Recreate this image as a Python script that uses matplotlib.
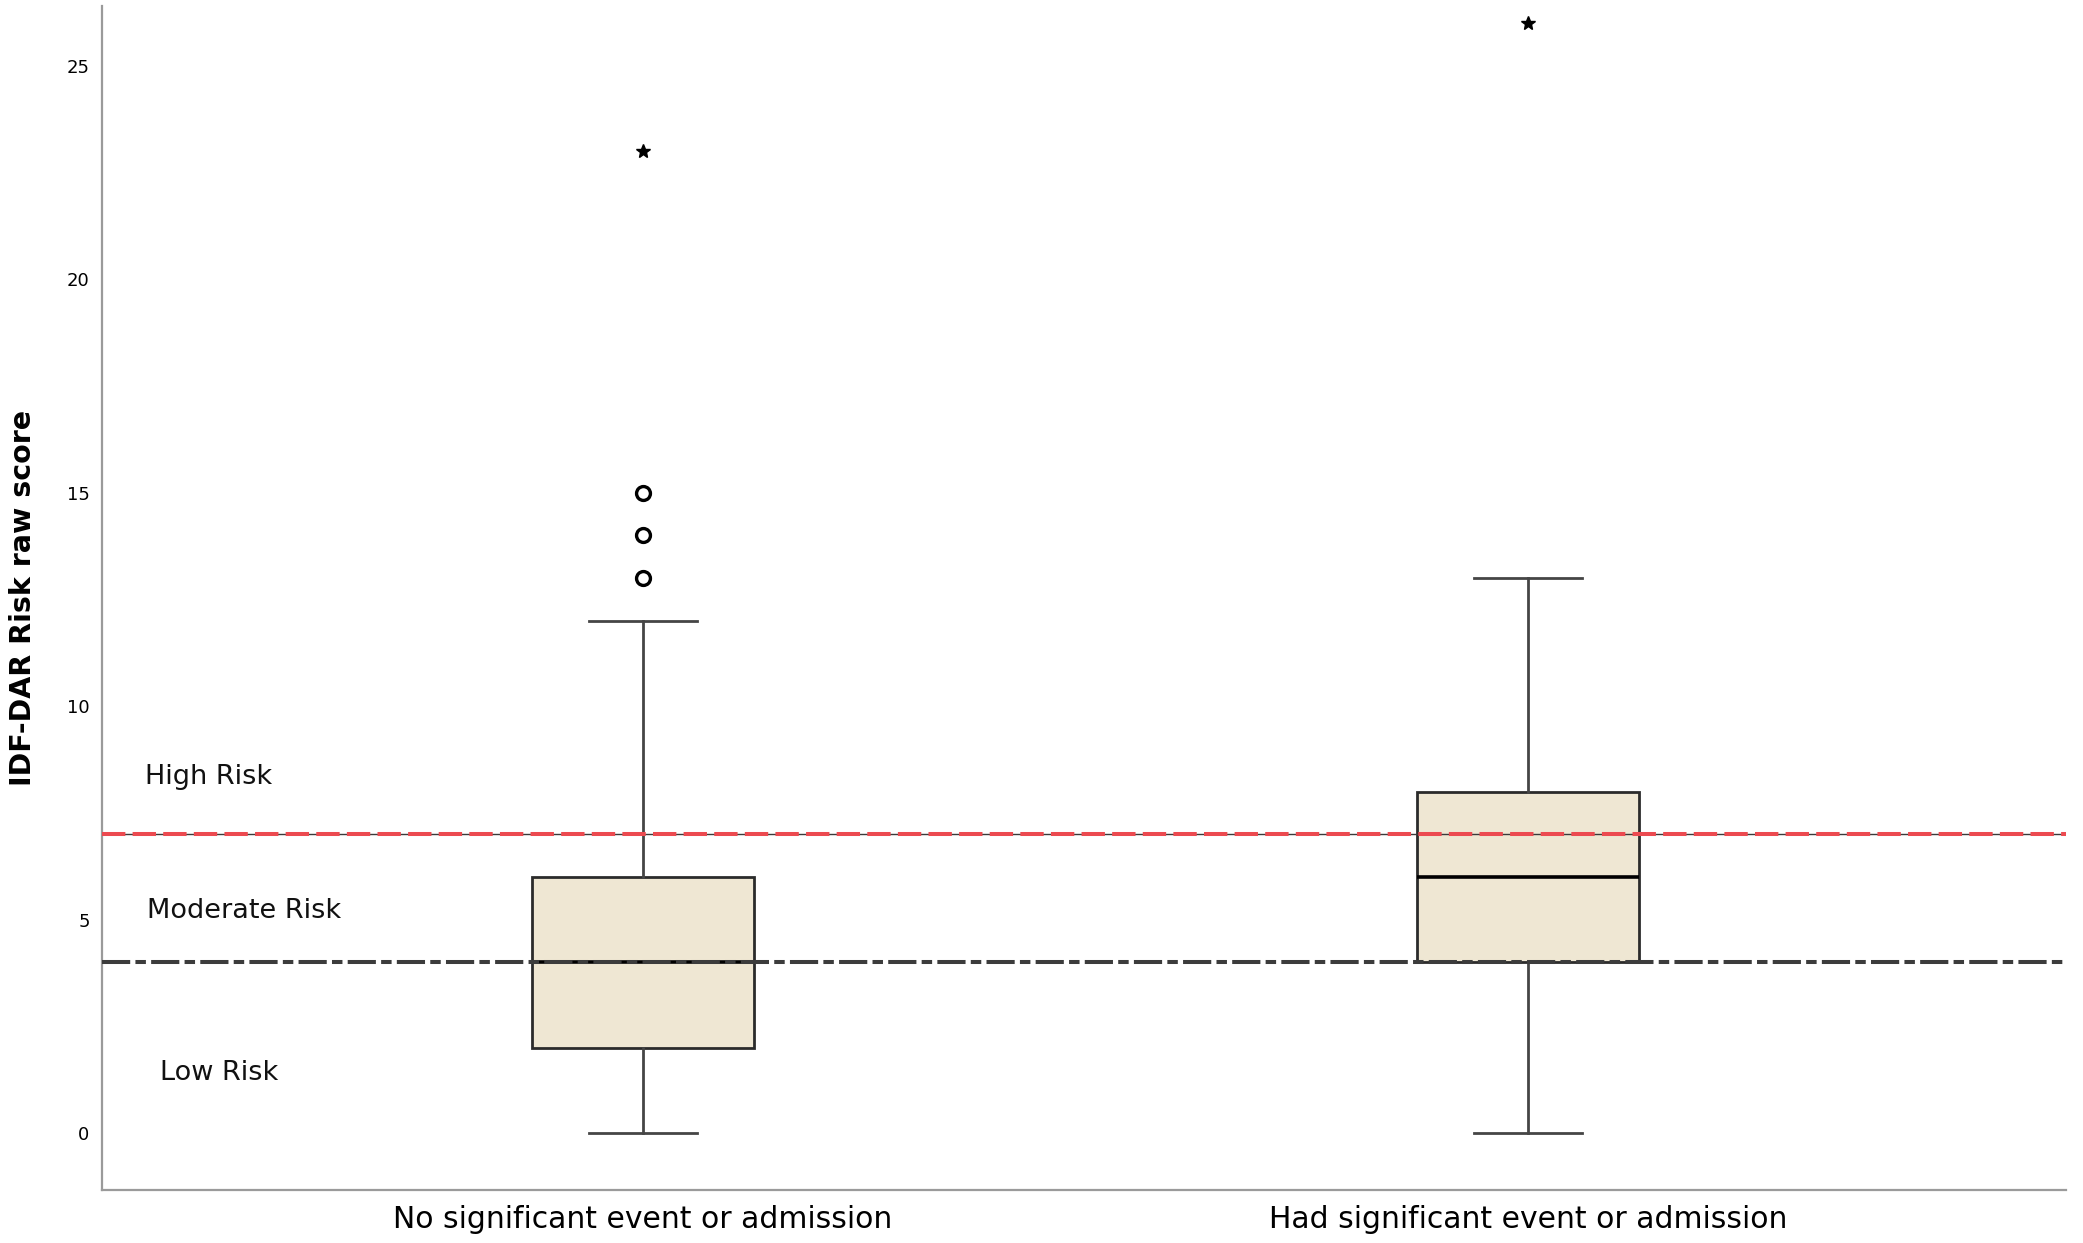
import matplotlib
matplotlib.use("Agg")
import matplotlib.pyplot as plt

# Box summary values
groups = ["No significant event or admission", "Had significant event or admission"]
q1 = [2, 4]
medians = [4, 6]
q3 = [6, 8]
whisker_low = [0, 0]
whisker_high = [12, 13]
outliers = [[13, 14, 15], []]
extremes = [[23], [26]]

high_cut = 7
low_cut = 4
zone_labels = ["High Risk", "Moderate Risk", "Low Risk"]
zone_label_y = [8.35, 5.2, 1.4]
zone_label_x = [-0.562, -0.560, -0.545]
y_ticks = [0, 5, 10, 15, 20, 25]

plt.rcParams["font.family"] = ["DejaVu Sans"]

fig = plt.figure(figsize=(20.83, 12.43), dpi=100)
ax = fig.add_axes([0.049, 0.0426, 0.943, 0.9526])

positions = list(range(len(groups)))
stats = []
for i, name in enumerate(groups):
    stats.append({
        "label": name,
        "q1": q1[i], "med": medians[i], "q3": q3[i],
        "whislo": whisker_low[i], "whishi": whisker_high[i],
        "fliers": outliers[i],
    })

line_col = "#454545"
ax.bxp(
    stats, positions=positions, widths=0.25, capwidths=0.122,
    patch_artist=True, showfliers=True,
    boxprops=dict(facecolor="#EFE7D3", edgecolor="#2b2b2b", linewidth=2.0),
    medianprops=dict(color="black", linewidth=2.6),
    whiskerprops=dict(color=line_col, linewidth=2.0),
    capprops=dict(color=line_col, linewidth=2.0),
    flierprops=dict(marker="o", markersize=10, markerfacecolor="white",
                    markeredgecolor="black", markeredgewidth=2.4),
    zorder=2,
)

for i, vals in enumerate(extremes):
    ax.plot([positions[i]] * len(vals), vals, linestyle="none", marker="*",
            markersize=10, color="black", zorder=4)

# cut-off reference lines
ax.axhline(high_cut, color="#3a3a3a", linewidth=1.0, zorder=3)
ax.axhline(high_cut, color="#EC4A50", linewidth=2.9, dashes=(5.8, 1.8), zorder=3)
ax.axhline(low_cut, color="#3c3c3c", linewidth=2.9, dashes=(7.0, 1.3, 2.6, 1.3), zorder=3)

for lab, lx, ly in zip(zone_labels, zone_label_x, zone_label_y):
    ax.text(lx, ly, lab, fontsize=19.5, ha="left", va="center", color="#111111")

ax.set_xlim(-0.611, 1.608)
ax.set_ylim(-1.33, 26.4)
ax.set_yticks(y_ticks)
ax.set_yticklabels([str(t) for t in y_ticks], fontsize=13)
ax.set_xticks(positions)
ax.set_xticklabels(groups, fontsize=21.5)
ax.tick_params(axis="y", length=0, pad=9)
ax.tick_params(axis="x", length=0, pad=11)

for side in ["top", "right"]:
    ax.spines[side].set_visible(False)
for side in ["left", "bottom"]:
    ax.spines[side].set_color("#9a9a9a")
    ax.spines[side].set_linewidth(1.6)

fig.text(0.011, 0.519, "IDF-DAR Risk raw score", rotation=90, fontsize=20.5,
         fontweight="bold", ha="center", va="center")

fig.savefig("out.png", dpi=100)
